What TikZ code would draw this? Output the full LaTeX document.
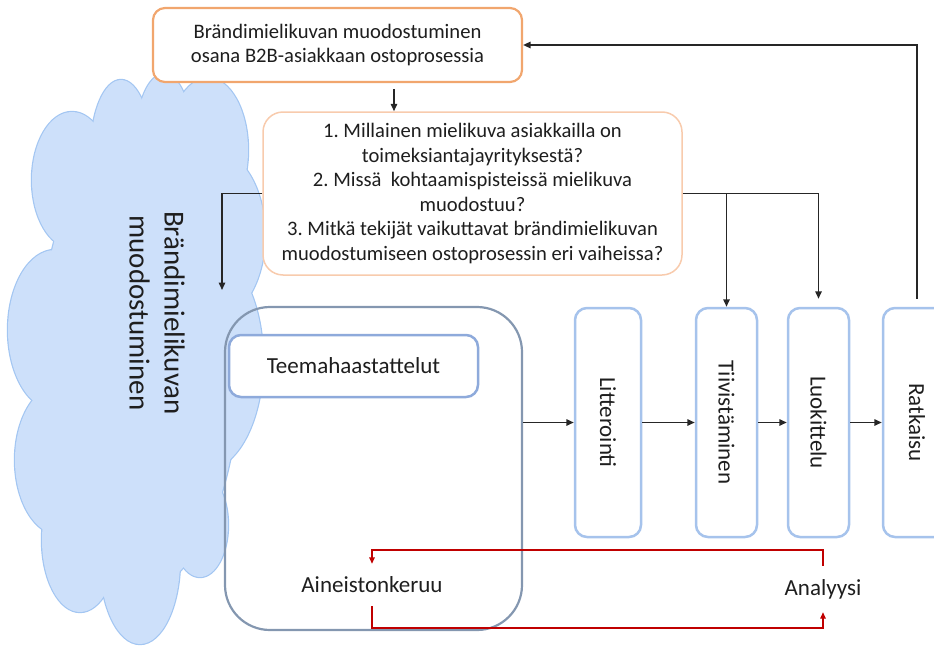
\documentclass[tikz,border=0pt]{standalone}
\usepackage{fontspec}
\setmainfont{Carlito}
\usetikzlibrary{arrows.meta,calc}
\definecolor{topor}{HTML}{F1A66E}
\definecolor{qor}{HTML}{F8CBAD}
\definecolor{bigb}{HTML}{8497B0}
\definecolor{teemab}{HTML}{8EAADB}
\definecolor{vblue}{HTML}{A6C3EC}
\definecolor{redc}{HTML}{C00000}
\definecolor{txt}{HTML}{1E1E1E}
\definecolor{cloudfill}{HTML}{CDE0FA}
\definecolor{cloudline}{HTML}{A3C6F2}
\frenchspacing
\begin{document}
\begin{tikzpicture}[x=1pt,y=-1pt,
  qtext/.style={font=\fontsize{20.6}{24.5}\selectfont, text=txt, align=center},
  lbl/.style={font=\fontsize{23}{28}\selectfont, text=txt},
  arr/.style={draw=black!85, line width=1.5pt, -{Triangle[length=7.5pt,width=6.5pt]}},
  redarr/.style={draw=redc, line width=1.4pt, -{Triangle[length=6.5pt,width=5.5pt]}},
  vbox/.style={draw=vblue, line width=2.5pt, fill=white, rounded corners=12pt,
    minimum height=229pt, inner sep=0pt, lbl},
]
\useasboundingbox (0,0) rectangle (934,645);
\clip (0,0) rectangle (934,645);

% cloud: union of puffs
\def\puffs{72/180/40/68, 121/150/30/70, 164/140/28/66, 208/150/40/72,
  213/235/52/85, 205/360/58/110, 200/525/28/52, 140/560/40/84,
  80/540/38/72, 60/460/45/75, 55/330/47/80, 140/360/100/230}
\foreach \cx/\cy/\rx/\ry in \puffs
  \draw[cloudline, line width=2.4pt] (\cx,\cy) ellipse [x radius=\rx, y radius=\ry];
\foreach \cx/\cy/\rx/\ry in \puffs
  \fill[cloudfill] (\cx,\cy) ellipse [x radius=\rx, y radius=\ry];
\node[rotate=-90, align=center, text=txt, font=\fontsize{29}{35}\selectfont]
  (cloudlabel) at (157,313) {Brändimielikuvan\\muodostuminen};

% boxes
\node[draw=topor, line width=2.2pt, fill=white, rounded corners=12pt,
  minimum width=369pt, minimum height=74pt, inner sep=0pt, qtext]
  (topbox) at (337.5,45) {Brändimielikuvan muodostuminen\\osana B2B-asiakkaan ostoprosessia};
\node[draw=qor, line width=1.5pt, fill=white, rounded corners=20pt,
  minimum width=419pt, minimum height=163pt, inner sep=0pt, qtext]
  (qbox) at (472.5,193.5) {1. Millainen mielikuva asiakkailla on\\toimeksiantajayrityksestä?\\2. Missä\ \ kohtaamispisteissä mielikuva\\muodostuu?\\3. Mitkä tekijät vaikuttavat brändimielikuvan\\muodostumiseen ostoprosessin eri vaiheissa?};

\node[draw=bigb, line width=2.2pt, rounded corners=45pt,
  minimum width=297pt, minimum height=323pt, inner sep=0pt] (bigbox) at (373.5,468.5) {};
\node[draw=teemab, line width=2.5pt, fill=white, rounded corners=12pt,
  minimum width=249pt, minimum height=62pt, inner sep=0pt, lbl] (teema) at (353.5,366) {Teemahaastattelut};
\node[lbl, minimum height=42pt, inner sep=0pt] (aine) at (372,585) {Aineistonkeruu};
\node[lbl, minimum height=46pt, inner sep=0pt] (analyysi) at (823,589) {Analyysi};

\node[vbox, minimum width=66pt] (litt) at (608,422.5) {\rotatebox{-90}{Litterointi}};
\node[vbox, minimum width=61pt] (tiiv) at (726.5,422.5) {\rotatebox{-90}{Tiivistäminen}};
\node[vbox, minimum width=61pt] (luok) at (818.5,422.5) {\rotatebox{-90}{Luokittelu}};
\node[vbox, minimum width=68pt] (ratk) at (917,422.5) {\rotatebox{-90}{Ratkaisu}};

% connectors
\coordinate (ax) at (394,0);
\draw[arr, shorten <=6pt] (topbox.south -| ax) -- (qbox.north -| ax);
\coordinate (cl) at (222,290);
\draw[arr] (qbox.west) -| (cl);
\draw[arr, shorten >=8pt] (qbox.east) -| (luok.north);
\draw[arr] (qbox.east -| tiiv.north) -- (tiiv.north);
\draw[arr, shorten <=8pt] (ratk.north) |- (topbox.east);
\draw[arr] (bigbox.east |- litt.west) -- (litt.west);
\draw[arr] (litt.east) -- (tiiv.west);
\draw[arr] (tiiv.east) -- (luok.west);
\draw[arr] (luok.east) -- (ratk.west);

\coordinate (rtop) at (0,550);
\coordinate (rbot) at (0,628);
\draw[redarr] (analyysi.north) -- (analyysi.north |- rtop) -- (aine.north |- rtop) -- (aine.north);
\draw[redarr] (aine.south) -- (aine.south |- rbot) -- (analyysi.south |- rbot) -- (analyysi.south);
\end{tikzpicture}
\end{document}
